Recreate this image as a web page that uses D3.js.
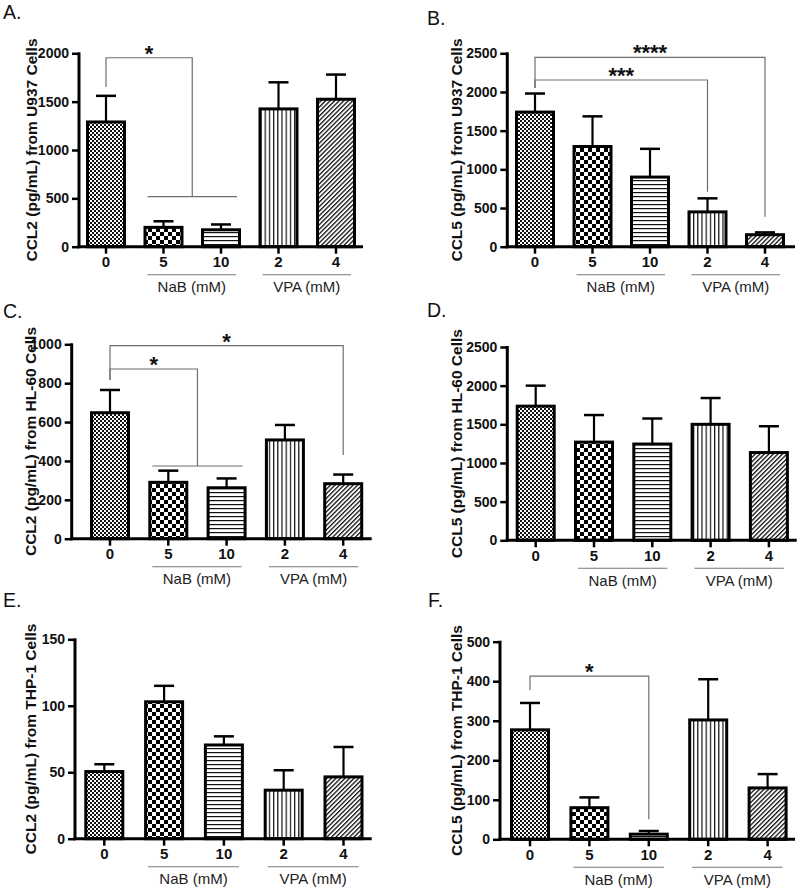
<!DOCTYPE html>
<html>
<head>
<meta charset="utf-8">
<script src="https://cdn.jsdelivr.net/npm/d3@7"></script>
<style>
  html, body { margin: 0; padding: 0; background: #fff; }
  svg { display: block; }
</style>
</head>
<body>
<svg id="chart" width="800" height="896"></svg>
<script>
// ---------------- DATA ----------------
const categories = ["0", "5", "10", "2", "4"];
const groupNaB = ["5", "10"];
const groupVPA = ["2", "4"];
const groupLabels = ["NaB (mM)", "VPA (mM)"];

const A_means = [1290, 200, 175, 1425, 1525];
const A_sem   = [270, 63, 55, 275, 255];
const B_means = [1740, 1295, 900, 450, 155];
const B_sem   = [240, 390, 365, 175, 30];
const C_means = [648, 290, 262, 508, 283];
const C_sem   = [117, 60, 48, 77, 47];
const D_means = [1735, 1270, 1245, 1500, 1135];
const D_sem   = [265, 350, 330, 340, 340];
const E_means = [50.5, 103, 70.5, 36.5, 46.5];
const E_sem   = [5.5, 12, 6.5, 15, 22.5];
const F_means = [277, 80, 13, 302, 130];
const F_sem   = [68, 26, 8, 103, 35];

const A_ticks = [0, 500, 1000, 1500, 2000];
const B_ticks = [0, 500, 1000, 1500, 2000, 2500];
const C_ticks = [0, 200, 400, 600, 800, 1000];
const D_ticks = [0, 500, 1000, 1500, 2000, 2500];
const E_ticks = [0, 50, 100, 150];
const F_ticks = [0, 100, 200, 300, 400, 500];

const panelTitles = ["A.", "B.", "C.", "D.", "E.", "F."];
const yLabels = [
  "CCL2 (pg/mL) from U937 Cells",
  "CCL5 (pg/mL) from U937 Cells",
  "CCL2 (pg/mL) from HL-60 Cells",
  "CCL5 (pg/mL) from HL-60 Cells",
  "CCL2 (pg/mL) from THP-1 Cells",
  "CCL5 (pg/mL) from THP-1 Cells"
];

// significance brackets (values in data units)
const A_sig = [{ to: groupNaB, level: 1954, leftBottom: 1651, rightBottom: 517, label: "*" }];
const B_sig = [
  { to: ["4"], level: 2448, leftBottom: 2051, rightBottom: 388, label: "****" },
  { to: ["2"], level: 2155, leftBottom: 2051, rightBottom: 711, label: "***" }
];
const C_sig = [
  { to: ["4"], level: 993, leftBottom: 817, rightBottom: 431, label: "*" },
  { to: groupNaB, level: 873, leftBottom: 817, rightBottom: 374, label: "*" }
];
const D_sig = [];
const E_sig = [];
const F_sig = [{ to: ["10"], level: 413, leftBottom: 378, rightBottom: 51, label: "*" }];

// ---------------- LAYOUT ----------------
const layouts = [
  { title: [3, 19],   axisX: 79,    y0: 246.7, yTop: 53.3,  c0: 106,   step: 57.5, xEnd: 363,   labX: 31 },
  { title: [427, 25], axisX: 507.3, y0: 246.7, yTop: 53.3,  c0: 535,   step: 57.5, xEnd: 795,   labX: 456 },
  { title: [3, 318],  axisX: 71.7,  y0: 538.7, yTop: 344.3, c0: 110,   step: 58.3, xEnd: 371.7, labX: 30 },
  { title: [427, 317],axisX: 507.3, y0: 540.3, yTop: 347,   c0: 535.7, step: 58.3, xEnd: 796.7, labX: 456 },
  { title: [3, 607],  axisX: 75,    y0: 838.7, yTop: 639.3, c0: 104.3, step: 59.8, xEnd: 371.7, labX: 30 },
  { title: [428, 607],axisX: 500,   y0: 839.3, yTop: 641.7, c0: 530,   step: 59.4, xEnd: 795,   labX: 456 }
];

const panels = [
  { means: A_means, sem: A_sem, ticks: A_ticks, sig: A_sig },
  { means: B_means, sem: B_sem, ticks: B_ticks, sig: B_sig },
  { means: C_means, sem: C_sem, ticks: C_ticks, sig: C_sig },
  { means: D_means, sem: D_sem, ticks: D_ticks, sig: D_sig },
  { means: E_means, sem: E_sem, ticks: E_ticks, sig: E_sig },
  { means: F_means, sem: F_sem, ticks: F_ticks, sig: F_sig }
];

const svg = d3.select("#chart");
const FONT = "'Liberation Sans', Arial, Helvetica, sans-serif";

// ---------------- PATTERNS ----------------
const defs = svg.append("defs");
{
  const p = defs.append("pattern").attr("id", "pat0").attr("patternUnits", "userSpaceOnUse")
    .attr("width", 4).attr("height", 4);
  p.append("rect").attr("width", 4).attr("height", 4).attr("fill", "#fff");
  p.append("rect").attr("x", 0).attr("y", 0).attr("width", 2).attr("height", 2).attr("fill", "#111");
  p.append("rect").attr("x", 2).attr("y", 2).attr("width", 2).attr("height", 2).attr("fill", "#111");
}
{
  const p = defs.append("pattern").attr("id", "pat5").attr("patternUnits", "userSpaceOnUse")
    .attr("width", 8).attr("height", 8);
  p.append("rect").attr("width", 8).attr("height", 8).attr("fill", "#fff");
  p.append("rect").attr("x", 0).attr("y", 0).attr("width", 4).attr("height", 4).attr("fill", "#000");
  p.append("rect").attr("x", 4).attr("y", 4).attr("width", 4).attr("height", 4).attr("fill", "#000");
}
{
  const p = defs.append("pattern").attr("id", "pat10").attr("patternUnits", "userSpaceOnUse")
    .attr("width", 4).attr("height", 4);
  p.append("rect").attr("width", 4).attr("height", 4).attr("fill", "#fff");
  p.append("rect").attr("x", 0).attr("y", 0).attr("width", 4).attr("height", 1.2).attr("fill", "#111");
}
{
  const p = defs.append("pattern").attr("id", "pat2").attr("patternUnits", "userSpaceOnUse")
    .attr("width", 4.2).attr("height", 4);
  p.append("rect").attr("width", 4.2).attr("height", 4).attr("fill", "#fff");
  p.append("rect").attr("x", 0).attr("y", 0).attr("width", 1.2).attr("height", 4).attr("fill", "#111");
}
{
  const p = defs.append("pattern").attr("id", "pat4").attr("patternUnits", "userSpaceOnUse")
    .attr("width", 3.2).attr("height", 4).attr("patternTransform", "rotate(45)");
  p.append("rect").attr("width", 3.2).attr("height", 4).attr("fill", "#fff");
  p.append("rect").attr("x", 0).attr("y", 0).attr("width", 1.3).attr("height", 4).attr("fill", "#111");
}
const patIds = ["pat0", "pat5", "pat10", "pat2", "pat4"];

// ---------------- DRAW ----------------
panels.forEach((pd, pi) => {
  const L = layouts[pi];
  const g = svg.append("g");
  const maxV = pd.ticks[pd.ticks.length - 1];

  const bx0 = L.c0 - L.step / 2;
  const pin = 1 - 37 / L.step;
  const x = d3.scaleBand().domain(categories).range([bx0, bx0 + 5 * L.step])
    .paddingInner(pin).paddingOuter(pin / 2);
  const y = d3.scaleLinear().domain([0, maxV]).range([L.y0, L.yTop]);
  const cx = c => x(c) + x.bandwidth() / 2;

  g.append("text").attr("x", L.title[0]).attr("y", L.title[1])
    .attr("font-family", FONT).attr("font-size", 19.5).attr("fill", "#111")
    .text(panelTitles[pi]);

  g.append("text")
    .attr("transform", `translate(${L.labX},${(L.y0 + L.yTop) / 2}) rotate(-90)`)
    .attr("text-anchor", "middle").attr("dy", "0.36em")
    .attr("font-family", FONT).attr("font-size", 15.5).attr("font-weight", "bold").attr("fill", "#111")
    .text(yLabels[pi]);

  const sg = g.append("g").attr("stroke", "#6e6e6e").attr("stroke-width", 1.2).attr("fill", "none");
  pd.sig.forEach(s => {
    const xl = cx("0");
    const isGroup = s.to.length > 1;
    const xr = isGroup ? (cx(s.to[0]) + cx(s.to[1])) / 2 : cx(s.to[0]);
    sg.append("path").attr("d",
      `M${xl},${y(s.leftBottom)}V${y(s.level)}H${xr}V${y(s.rightBottom)}`);
    if (isGroup) {
      sg.append("line")
        .attr("x1", cx(s.to[0]) - 16).attr("x2", cx(s.to[1]) + 16)
        .attr("y1", y(s.rightBottom)).attr("y2", y(s.rightBottom));
    }
    g.append("text").attr("x", (xl + xr) / 2).attr("y", y(s.level) + 3)
      .attr("text-anchor", "middle")
      .attr("font-family", FONT).attr("font-size", 22).attr("font-weight", "bold").attr("fill", "#111")
      .text(s.label);
  });

  const eg = g.append("g").attr("stroke", "#000");
  categories.forEach((c, i) => {
    const top = pd.means[i] + pd.sem[i];
    eg.append("line").attr("x1", cx(c)).attr("x2", cx(c))
      .attr("y1", y(pd.means[i])).attr("y2", y(top)).attr("stroke-width", 2.2);
    eg.append("line").attr("x1", cx(c) - 10).attr("x2", cx(c) + 10)
      .attr("y1", y(top)).attr("y2", y(top)).attr("stroke-width", 2.5);
  });

  g.append("g").selectAll("rect").data(categories).join("rect")
    .attr("x", c => x(c))
    .attr("width", x.bandwidth())
    .attr("y", (c, i) => y(pd.means[i]))
    .attr("height", (c, i) => L.y0 - y(pd.means[i]))
    .attr("fill", (c, i) => `url(#${patIds[i]})`)
    .attr("stroke", "#000").attr("stroke-width", 3);

  const yAxis = d3.axisLeft(y).tickValues(pd.ticks).tickSize(7).tickSizeOuter(0).tickPadding(3)
    .tickFormat(d3.format("d"));
  const ya = g.append("g").attr("transform", `translate(${L.axisX},0)`).call(yAxis);
  ya.select(".domain").remove();
  ya.selectAll(".tick line").attr("stroke", "#000").attr("stroke-width", 2.5);
  ya.selectAll(".tick text").attr("font-family", FONT).attr("font-size", 14)
    .attr("font-weight", "bold").attr("fill", "#111");
  g.append("line").attr("x1", L.axisX).attr("x2", L.axisX)
    .attr("y1", L.y0 + 1.5).attr("y2", L.yTop - 1)
    .attr("stroke", "#000").attr("stroke-width", 3);

  const xAxis = d3.axisBottom(x).tickSize(7).tickSizeOuter(0).tickPadding(3);
  const xa = g.append("g").attr("transform", `translate(0,${L.y0})`).call(xAxis);
  xa.select(".domain").remove();
  xa.selectAll(".tick line").attr("stroke", "#000").attr("stroke-width", 2.5);
  xa.selectAll(".tick text").attr("font-family", FONT).attr("font-size", 15)
    .attr("font-weight", "bold").attr("fill", "#111");
  g.append("line").attr("x1", L.axisX - 1.5).attr("x2", L.xEnd)
    .attr("y1", L.y0).attr("y2", L.y0)
    .attr("stroke", "#000").attr("stroke-width", 3);

  [groupNaB, groupVPA].forEach((grp, gi) => {
    const x1 = cx(grp[0]) - 16, x2 = cx(grp[1]) + 15;
    const ly = L.y0 + 28;
    g.append("line").attr("x1", x1).attr("x2", x2).attr("y1", ly).attr("y2", ly)
      .attr("stroke", "#777").attr("stroke-width", 1.1);
    g.append("text").attr("x", (x1 + x2) / 2).attr("y", L.y0 + 45.5)
      .attr("text-anchor", "middle")
      .attr("font-family", FONT).attr("font-size", 15).attr("fill", "#222")
      .text(groupLabels[gi]);
  });
});
</script>
</body>
</html>
